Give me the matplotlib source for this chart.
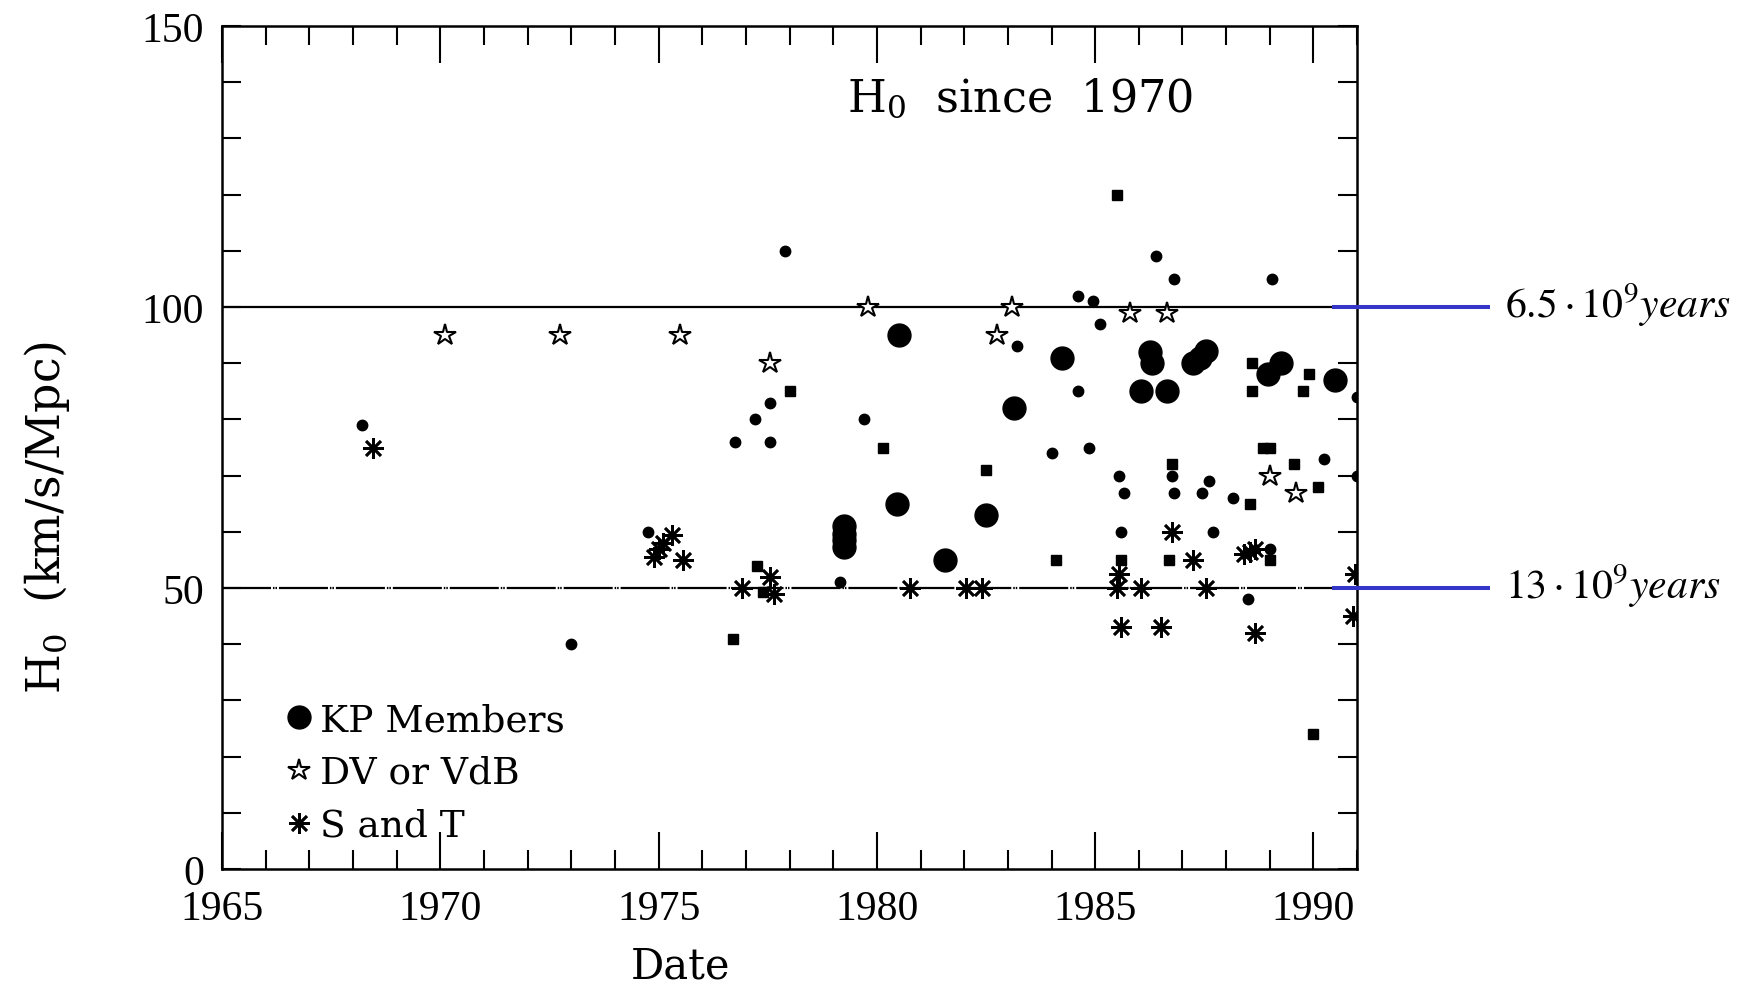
import matplotlib
matplotlib.use("Agg")
import matplotlib.pyplot as plt
from matplotlib.lines import Line2D
from matplotlib.ticker import MultipleLocator

plt.rcParams['lines.scale_dashes'] = False

# Key Project members (large filled circles)
kp_year = [1979.25, 1979.25, 1979.25, 1979.25, 1980.45, 1980.5, 1981.55, 1982.5,
           1983.15, 1984.25, 1986.05, 1986.25, 1986.3, 1986.65, 1987.25, 1987.4,
           1987.55, 1988.95, 1989.25, 1990.5]
kp_h0 = [61, 59.7, 58.5, 57.3, 65, 95, 55, 63,
         82, 91, 85, 92, 90, 85, 90, 91,
         92.1, 88, 90, 87]

# de Vaucouleurs or van den Bergh (open stars)
dv_year = [1970.1, 1972.75, 1975.5, 1977.55, 1979.8, 1982.75, 1983.1, 1985.8,
           1986.65, 1989.0, 1989.6]
dv_h0 = [95, 95, 95, 90, 100, 95, 100, 99,
         99, 70, 67]

# Sandage and Tammann (asterisks)
st_year = [1968.45, 1974.9, 1975.0, 1975.1, 1975.3, 1975.55, 1976.9, 1977.55,
           1977.65, 1980.75, 1982.05, 1982.4, 1985.5, 1985.55, 1985.6, 1986.05,
           1986.5, 1986.75, 1987.25, 1987.55, 1988.4, 1988.55, 1988.65, 1988.65,
           1990.95, 1990.9]
st_h0 = [75, 55.5, 57, 58, 59.5, 55, 50, 52,
         49, 50, 50, 50, 50, 52.5, 43, 50,
         43, 60, 55, 50, 56, 56.5, 57, 42,
         52.5, 45]

# other published values (small dots)
dot_year = [1968.2, 1973.0, 1974.75, 1976.75, 1977.2, 1977.55, 1977.55, 1977.9,
            1979.15, 1979.7, 1983.2, 1984.0, 1984.6, 1984.6, 1984.85, 1984.95,
            1985.1, 1985.55, 1985.65, 1985.6, 1986.4, 1986.75, 1986.8, 1986.8,
            1987.45, 1987.6, 1987.7, 1988.15, 1988.5, 1989.0, 1989.05, 1990.25,
            1991.0, 1991.0]
dot_h0 = [79, 40, 60, 76, 80, 83, 76, 110,
          51, 80, 93, 74, 85, 102, 75, 101,
          97, 70, 67, 60, 109, 70, 67, 105,
          67, 69, 60, 66, 48, 57, 105, 73,
          84, 70]

# other published values (small squares)
sq_year = [1976.7, 1977.25, 1977.4, 1978.0, 1980.15, 1982.5, 1984.1, 1985.5,
           1985.6, 1986.7, 1986.75, 1988.55, 1988.6, 1988.6, 1988.85, 1989.0,
           1989.0, 1989.55, 1989.75, 1989.9, 1990.0, 1990.1]
sq_h0 = [41, 54, 49.3, 85, 75, 71, 55, 120,
         55, 55, 72, 65, 90, 85, 75, 75,
         55, 72, 85, 88, 24, 68]

# Hubble constant values with the corresponding Hubble time
ref_h0 = [100, 50]
ref_age = ['6.5', '13']

legend_labels = ['KP Members', 'DV or VdB', 'S and T']
x_ticks = [1965, 1970, 1975, 1980, 1985, 1990]
y_ticks = [0, 50, 100, 150]

serif = 'DejaVu Serif'
tick_font = 'Liberation Serif'

fig = plt.figure(figsize=(17.65, 9.87), dpi=100)
ax = fig.add_axes([0.1258, 0.1185, 0.6431, 0.8541])
ax.set_xlim(1965, 1991)
ax.set_ylim(0, 150)

# reference levels
ax.axhline(ref_h0[0], color='black', lw=1.6, zorder=1)
ax.axhline(ref_h0[1], color='black', lw=1.6, zorder=1,
           dashes=(35.3, 1.4, 1.1, 0.7, 1.1, 1.4))

star_kw = dict(marker='*', ms=16, mfc='white', mec='black', mew=1.5)
ast_kw = dict(marker=(8, 2, 0), ms=15, color='black', mew=1.9)

ax.plot(dot_year, dot_h0, ls='none', marker='o', ms=7.5, color='black', zorder=3)
ax.plot(sq_year, sq_h0, ls='none', marker='s', ms=7, color='black', zorder=3)
ax.plot(kp_year, kp_h0, ls='none', marker='o', ms=16.5, color='black', zorder=3)
ax.plot(dv_year, dv_h0, ls='none', zorder=4, **star_kw)
ax.plot(st_year, st_h0, ls='none', zorder=4, **ast_kw)

# axes frame and ticks
for sp in ax.spines.values():
    sp.set_linewidth(1.8)
ax.set_xticks(x_ticks)
ax.set_yticks(y_ticks)
ax.xaxis.set_minor_locator(MultipleLocator(1))
ax.yaxis.set_minor_locator(MultipleLocator(10))
ax.tick_params(which='both', direction='in', top=True, right=True, width=1.5,
               labelsize=30)
ax.tick_params(axis='x', which='major', length=26.5, pad=15)
ax.tick_params(axis='y', which='major', length=14, pad=13)
ax.tick_params(which='minor', length=13.7)
for lab in ax.get_xticklabels() + ax.get_yticklabels():
    lab.set_fontfamily(tick_font)

ax.set_xlabel('Date', fontsize=30, family=serif)
ax.xaxis.set_label_coords(0.404, -0.09)
ax.set_ylabel('H$_0$  (km/s/Mpc)', fontsize=33, family=serif,
              math_fontfamily='dejavuserif', va='center')
ax.yaxis.set_label_coords(-0.154, 0.418)

ax.text(0.5507, 0.899, 'H$_0$  since  1970', transform=ax.transAxes,
        fontsize=32, family=serif, math_fontfamily='dejavuserif',
        ha='left', va='baseline')

handles = [
    Line2D([], [], ls='none', marker='o', ms=16.5, color='black'),
    Line2D([], [], ls='none', **star_kw),
    Line2D([], [], ls='none', **ast_kw),
]
ax.legend(handles, legend_labels, loc='lower left', bbox_to_anchor=(0.0546, 0.03),
          frameon=False, prop={'family': serif, 'size': 27}, handlelength=0.8,
          handletextpad=0.15, borderpad=0, borderaxespad=0, labelspacing=0.45,
          numpoints=1)

# Hubble-time markers on the right
ytrans = ax.get_yaxis_transform()
for h0, age in zip(ref_h0, ref_age):
    ax.plot([0.978, 1.117], [h0, h0], transform=ytrans, color='#3535C8', lw=2.9,
            clip_on=False, zorder=6, solid_capstyle='butt')
    ax.annotate(rf'${age}\cdot10^{{9}}\mathit{{years}}$', xy=(1.1304, h0),
                xycoords=ytrans, xytext=(0, -7.5), textcoords='offset points',
                ha='left', va='baseline', fontsize=30, math_fontfamily='stix',
                annotation_clip=False)

fig.savefig('out.png', dpi=100, facecolor='white')
